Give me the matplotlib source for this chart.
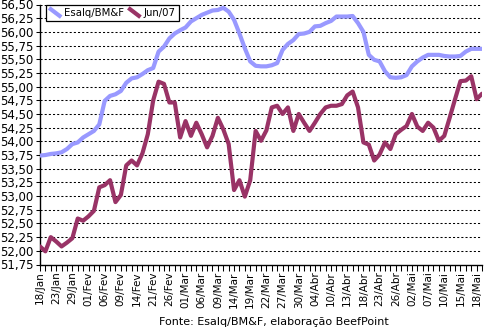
import numpy as np
import matplotlib
matplotlib.use("Agg")
import matplotlib.pyplot as plt
from matplotlib.lines import Line2D
from matplotlib.legend_handler import HandlerBase

# rótulos do eixo x (um a cada 3 pregões)
rotulos = ['18/Jan', '23/Jan', '29/Jan', '01/Fev', '06/Fev', '09/Fev', '14/Fev',
           '21/Fev', '26/Fev', '01/Mar', '06/Mar', '09/Mar', '14/Mar', '19/Mar',
           '22/Mar', '27/Mar', '30/Mar', '04/Abr', '10/Abr', '13/Abr', '18/Abr',
           '23/Abr', '26/Abr', '02/Mai', '07/Mai', '10/Mai', '15/Mai', '18/Mai']

# indicador Esalq/BM&F (R$/@), pregão a pregão
esalq = [53.74, 53.75, 53.77, 53.78, 53.80, 53.86, 53.95, 53.98, 54.07, 54.13,
         54.19, 54.31, 54.74, 54.83, 54.86, 54.92, 55.07, 55.15, 55.17, 55.23,
         55.30, 55.34, 55.64, 55.73, 55.88, 55.97, 56.03, 56.08, 56.19, 56.25,
         56.31, 56.35, 56.39, 56.40, 56.44, 56.37, 56.22, 55.97, 55.70, 55.46,
         55.38, 55.37, 55.37, 55.39, 55.43, 55.67, 55.78, 55.85, 55.96, 55.97,
         56.00, 56.10, 56.11, 56.16, 56.20, 56.28, 56.28, 56.28, 56.29, 56.16,
         56.00, 55.58, 55.49, 55.46, 55.28, 55.17, 55.16, 55.17, 55.21, 55.37,
         55.46, 55.53, 55.58, 55.58, 55.58, 55.56, 55.55, 55.55, 55.56, 55.64,
         55.69, 55.69, 55.69]

# contrato futuro Jun/07
jun07 = [52.08, 51.99, 52.25, 52.17, 52.08, 52.15, 52.23, 52.59, 52.55, 52.63,
         52.73, 53.16, 53.20, 53.29, 52.89, 53.02, 53.56, 53.65, 53.56, 53.78,
         54.13, 54.75, 55.09, 55.05, 54.71, 54.71, 54.07, 54.37, 54.10, 54.34,
         54.13, 53.89, 54.10, 54.43, 54.22, 53.95, 53.11, 53.29, 52.99, 53.29,
         54.19, 54.01, 54.20, 54.62, 54.65, 54.50, 54.62, 54.19, 54.50, 54.34,
         54.19, 54.34, 54.50, 54.62, 54.65, 54.65, 54.68, 54.84, 54.91, 54.62,
         53.98, 53.94, 53.65, 53.76, 53.98, 53.86, 54.13, 54.21, 54.28, 54.50,
         54.27, 54.19, 54.34, 54.25, 54.01, 54.10, 54.43, 54.77, 55.10, 55.11,
         55.19, 54.77, 54.87]


class Diagonal(HandlerBase):
    # marcador da legenda em diagonal, estilo Excel
    def create_artists(self, legend, orig_handle, xdescent, ydescent,
                       width, height, fontsize, trans):
        ln = Line2D([-xdescent, -xdescent + width],
                    [-ydescent + height * 1.15, -ydescent - height * 0.15])
        ln.update_from(orig_handle)
        ln.set_solid_capstyle('butt')
        ln.set_transform(trans)
        return [ln]


fig = plt.figure(figsize=(4.84, 3.29), dpi=100)
ax = fig.add_axes([40 / 484, 1 - 264.5 / 329, 442 / 484, 260 / 329])

x = np.arange(len(esalq))
l1, = ax.plot(x, esalq, color='#9999FF', lw=3.0, solid_capstyle='round',
              solid_joinstyle='round', label='Esalq/BM&F', zorder=3)
l2, = ax.plot(x, jun07, color='#993366', lw=3.0, solid_capstyle='round',
              solid_joinstyle='round', label='Jun/07', zorder=4)

ax.set_xlim(0, len(esalq) - 1)
ax.set_ylim(51.75, 56.5)

yt = np.arange(51.75, 56.51, 0.25)
ax.set_yticks(yt)
ax.set_yticklabels([('%.2f' % v).replace('.', ',') for v in yt], fontsize=8.5)
for v in yt[1:]:
    ax.axhline(v, color='black', lw=0.75, ls=(0, (2, 2)), zorder=1)

ax.set_xticks(x, minor=True)
ax.set_xticks(np.arange(0, len(rotulos) * 3, 3))
ax.set_xticklabels(rotulos, rotation=90, fontsize=7.5)
ax.tick_params(axis='x', which='both', length=4, width=0.75, pad=1)
ax.tick_params(axis='y', length=3, width=0.75, pad=1.5)

for s in ['top', 'right']:
    ax.spines[s].set_visible(False)
for s in ['left', 'bottom']:
    ax.spines[s].set_linewidth(1)

leg = fig.legend(handles=[l1, l2], loc='upper left',
                 bbox_to_anchor=(46 / 484, 1 - 5 / 329), ncol=2,
                 fontsize=7.3, frameon=True, fancybox=False, shadow=False,
                 edgecolor='black', framealpha=1, borderpad=0.3,
                 handlelength=1.2, handletextpad=0.3, columnspacing=0.4,
                 borderaxespad=0, handler_map={Line2D: Diagonal()})
leg.get_frame().set_linewidth(0.9)

fig.text(274 / 484, 1 - 322 / 329, 'Fonte: Esalq/BM&F, elaboração BeefPoint',
         ha='center', va='center', fontsize=8)

fig.savefig('out.png', dpi=100)
